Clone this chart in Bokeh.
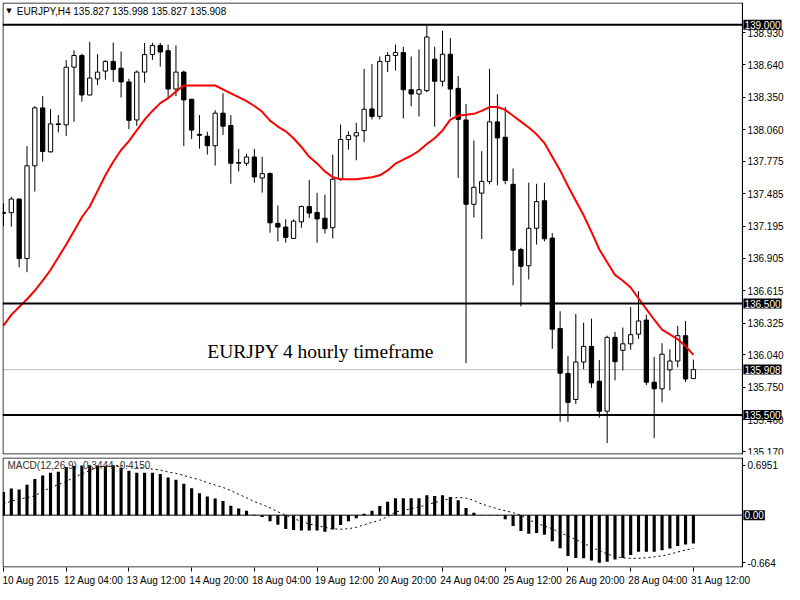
from bokeh.plotting import figure
from bokeh.models import Range1d, FixedTicker, Label, NumeralTickFormatter, BoxAnnotation
from bokeh.layouts import column
from bokeh.embed import file_html
from bokeh.resources import INLINE

# ---------------- data ----------------
date_labels = ["10 Aug 2015", "12 Aug 04:00", "13 Aug 12:00", "14 Aug 20:00",
               "18 Aug 04:00", "19 Aug 12:00", "20 Aug 20:00", "24 Aug 04:00",
               "25 Aug 12:00", "26 Aug 20:00", "28 Aug 04:00", "31 Aug 12:00"]
date_label_bars = [0, 8, 16, 24, 32, 40, 48, 56, 64, 72, 80, 88]

opens = [137.317, 137.315, 137.437, 136.904, 137.735, 138.254, 137.860, 138.111, 138.102, 138.619,
         138.724, 138.370, 138.514, 138.584, 138.671, 138.610, 138.487, 138.146, 138.575, 138.732,
         138.814, 138.767, 138.423, 138.575, 138.332, 138.017, 138.000, 137.915, 138.207, 138.096,
         137.764, 137.758, 137.814, 137.626, 137.665, 137.219, 137.186, 137.084, 137.233, 137.370,
         137.317, 137.265, 137.180, 137.615, 137.971, 138.003, 138.050, 138.245, 138.178, 138.671,
         138.724, 138.750, 138.417, 138.379, 138.409, 138.691, 138.493, 138.735, 138.429, 138.146,
         137.390, 137.490, 137.595, 138.129, 137.991, 137.569, 136.985, 136.839, 137.175, 137.422,
         137.087, 136.276, 135.874, 135.640, 135.976, 136.116, 135.804, 135.535, 136.197, 136.081,
         136.139, 136.226, 136.352, 135.795, 135.736, 135.906, 135.985, 136.212, 135.827]
highs = [137.399, 137.457, 137.443, 137.912, 138.269, 138.359, 138.245, 138.190, 138.682, 138.770,
         138.741, 138.846, 138.735, 138.682, 138.840, 138.759, 138.516, 138.589, 138.837, 138.837,
         138.837, 138.822, 138.814, 138.589, 138.332, 138.190, 138.041, 138.234, 138.385, 138.190,
         137.886, 137.842, 137.886, 137.816, 137.676, 137.379, 137.256, 137.254, 137.379, 137.606,
         137.492, 137.475, 137.834, 138.105, 138.044, 138.120, 138.604, 138.647, 138.715, 138.755,
         138.822, 138.802, 138.715, 138.779, 138.989, 138.802, 138.945, 138.881, 138.540, 138.289,
         137.962, 137.866, 138.604, 138.376, 138.262, 137.711, 137.000, 137.583, 137.574, 137.583,
         137.131, 136.431, 136.029, 136.407, 136.329, 136.364, 135.994, 136.212, 136.247, 136.285,
         136.469, 136.611, 136.401, 136.022, 136.145, 136.090, 136.300, 136.344, 135.998]
lows = [137.195, 137.189, 136.825, 136.781, 137.504, 137.772, 137.854, 138.035, 138.003, 138.129,
        138.309, 138.365, 138.458, 138.507, 138.487, 138.347, 138.064, 138.094, 138.481, 138.685,
        138.624, 138.341, 138.361, 137.912, 137.976, 137.889, 137.836, 137.737, 138.011, 137.574,
        137.685, 137.735, 137.583, 137.495, 137.136, 137.058, 137.046, 137.079, 137.180, 137.268,
        137.046, 137.128, 137.084, 137.600, 137.880, 137.784, 137.947, 138.151, 138.151, 138.575,
        138.589, 138.160, 138.269, 138.178, 138.394, 138.085, 138.446, 138.175, 137.626, 135.964,
        137.271, 137.079, 137.569, 137.560, 137.569, 136.664, 136.475, 136.716, 137.029, 137.058,
        136.095, 135.439, 135.439, 135.600, 135.911, 135.745, 135.477, 135.250, 135.812, 135.900,
        136.086, 136.183, 135.769, 135.294, 135.614, 135.722, 135.929, 135.798, 135.827]
closes = [137.309, 137.437, 136.904, 137.735, 138.254, 137.863, 138.111, 138.105, 138.619, 138.724,
          138.370, 138.522, 138.575, 138.671, 138.598, 138.487, 138.143, 138.575, 138.732, 138.814,
          138.755, 138.423, 138.575, 138.326, 138.055, 138.009, 137.915, 138.207, 138.090, 137.758,
          137.759, 137.814, 137.635, 137.665, 137.224, 137.186, 137.093, 137.239, 137.370, 137.311,
          137.259, 137.171, 137.615, 137.971, 138.006, 138.032, 138.242, 138.178, 138.671, 138.724,
          138.750, 138.417, 138.379, 138.417, 138.890, 138.493, 138.735, 138.423, 138.151, 137.390,
          137.542, 137.595, 138.129, 137.985, 137.604, 136.979, 136.834, 137.175, 137.414, 137.081,
          136.270, 135.876, 135.614, 135.976, 136.116, 135.789, 135.535, 136.197, 135.979, 136.139,
          136.221, 136.344, 135.795, 135.736, 136.046, 135.985, 136.212, 135.824, 135.908]
moving_avg = [136.302, 136.399, 136.469, 136.539, 136.617, 136.705, 136.801, 136.915, 137.029, 137.151,
              137.274, 137.370, 137.510, 137.650, 137.772, 137.877, 137.956, 138.052, 138.149, 138.227,
              138.297, 138.341, 138.402, 138.455, 138.455, 138.455, 138.455, 138.455, 138.420, 138.385,
              138.350, 138.315, 138.271, 138.219, 138.140, 138.087, 138.044, 137.982, 137.904, 137.816,
              137.755, 137.685, 137.632, 137.615, 137.615, 137.615, 137.624, 137.632, 137.650, 137.694,
              137.755, 137.790, 137.825, 137.869, 137.930, 137.982, 138.052, 138.149, 138.184, 138.192,
              138.201, 138.227, 138.262, 138.262, 138.236, 138.184, 138.131, 138.079, 138.017, 137.939,
              137.816, 137.694, 137.554, 137.422, 137.291, 137.142, 136.985, 136.871, 136.757, 136.705,
              136.644, 136.547, 136.451, 136.355, 136.267, 136.224, 136.180, 136.119, 136.040]
macd_hist = [0.321, 0.371, 0.358, 0.425, 0.502, 0.551, 0.591, 0.605, 0.672, 0.685,
             0.690, 0.695, 0.690, 0.688, 0.695, 0.659, 0.618, 0.591, 0.591, 0.591,
             0.574, 0.524, 0.493, 0.439, 0.375, 0.304, 0.259, 0.232, 0.196, 0.132,
             0.092, 0.061, 0.004, -0.024, -0.084, -0.132, -0.192, -0.205, -0.213, -0.213,
             -0.213, -0.232, -0.200, -0.138, -0.084, -0.043, 0.020, 0.061, 0.128, 0.186,
             0.236, 0.236, 0.236, 0.236, 0.277, 0.267, 0.277, 0.254, 0.209, 0.101,
             0.034, 0.003, -0.004, -0.008, -0.057, -0.151, -0.219, -0.259, -0.250, -0.273,
             -0.362, -0.462, -0.570, -0.597, -0.601, -0.632, -0.664, -0.648, -0.618, -0.597,
             -0.556, -0.510, -0.510, -0.510, -0.489, -0.466, -0.429, -0.408, -0.394]
macd_signal = [0.155, 0.196, 0.223, 0.243, 0.270, 0.331, 0.385, 0.425, 0.470, 0.527,
               0.574, 0.621, 0.668, 0.682, 0.689, 0.689, 0.682, 0.668, 0.655, 0.641,
               0.628, 0.601, 0.581, 0.554, 0.520, 0.493, 0.452, 0.419, 0.385, 0.344,
               0.290, 0.243, 0.189, 0.149, 0.101, 0.047, 0.000, -0.047, -0.088, -0.122,
               -0.149, -0.169, -0.189, -0.196, -0.189, -0.169, -0.135, -0.101, -0.070, -0.020,
               0.043, 0.068, 0.088, 0.115, 0.142, 0.176, 0.203, 0.230, 0.246, 0.239,
               0.203, 0.155, 0.122, 0.088, 0.061, 0.034, 0.000, -0.061, -0.115, -0.149,
               -0.189, -0.243, -0.290, -0.340, -0.392, -0.446, -0.493, -0.540, -0.578, -0.594,
               -0.601, -0.601, -0.594, -0.581, -0.567, -0.543, -0.513, -0.486, -0.462]

price_ticks = [138.930, 138.640, 138.350, 138.060, 137.775, 137.485, 137.195,
               136.905, 136.615, 136.325, 136.040, 135.750, 135.460, 135.170]
level_lines = [139.000, 136.500, 135.500]
bid_price = 135.908
macd_ticks = [0.6951, -0.664]
macd_tick_labels = ["0.6951", "-0.664"]
symbol = "EURJPY,H4"
macd_name = "MACD(12,26,9)"
macd_values_text = "-0.3444 -0.4150"
note_text = "EURJPY 4 hourly timeframe"

# ---------------- layout constants ----------------
FONT = "Liberation Sans"
FS = "10px"
FRAME_W = 782
PX_PER_BAR = 7.84
X_START = -0.125
X_END = X_START + FRAME_W / PX_PER_BAR
PLOT_END = 94.25          # right edge of the chart area (price scale starts here)
MAIN_H = 452
MACD_H = 110
P_LO, P_HI = 135.147, 139.199
M_LO, M_HI = -0.729, 0.803

n = len(opens)
idx = list(range(n))
body_top = [max(o, c) for o, c in zip(opens, closes)]
body_bot = [min(o, c) for o, c in zip(opens, closes)]
body_fill = ["white" if c > o else "black" for o, c in zip(opens, closes)]

xr = Range1d(X_START, X_END)
hx = (X_END - X_START) / FRAME_W * 0.5


def frame_box(lo, hi, h):
    hy = (hi - lo) / h * 0.5
    return BoxAnnotation(left=X_START + hx, right=PLOT_END, bottom=lo + hy, top=hi - hy,
                         fill_color=None, fill_alpha=0, line_color="black",
                         line_alpha=1, line_width=1)


def price_label(y, txt):
    return Label(x=PLOT_END, y=y, x_offset=1, text=txt, text_color="white",
                 background_fill_color="black", text_baseline="middle",
                 text_font=FONT, text_font_size=FS, padding=1)


# ---------------- main chart ----------------
p = figure(frame_width=FRAME_W, frame_height=MAIN_H, x_range=xr, y_range=Range1d(P_LO, P_HI),
           x_axis_location=None, y_axis_location="right", toolbar_location=None,
           output_backend="svg", min_border_left=2, min_border_right=0,
           min_border_top=2, min_border_bottom=3, background_fill_color="white",
           border_fill_color="white", outline_line_color=None)
p.grid.visible = False
ya = p.yaxis[0]
ya.fixed_location = PLOT_END
ya.ticker = FixedTicker(ticks=price_ticks)
ya.formatter = NumeralTickFormatter(format="0.000")
ya.major_tick_out = 3
ya.major_tick_in = 0
ya.minor_tick_line_color = None
ya.axis_line_color = "black"
ya.major_label_standoff = 2
ya.major_label_text_font = FONT
ya.major_label_text_font_size = FS
ya.major_label_text_color = "black"

p.add_layout(frame_box(P_LO, P_HI, MAIN_H))

p.segment(x0=[X_START], y0=[bid_price], x1=[PLOT_END], y1=[bid_price],
          line_color="#c0c0c0", line_width=1)
p.segment(x0=idx, y0=lows, x1=idx, y1=highs, line_color="black", line_width=1)
p.vbar(x=idx, top=body_top, bottom=body_bot, width=0.55, fill_color=body_fill,
       line_color="black", line_width=1)
p.line(idx, moving_avg, line_color="#ff0000", line_width=2)
p.segment(x0=[X_START] * len(level_lines), y0=level_lines,
          x1=[PLOT_END] * len(level_lines), y1=level_lines,
          line_color="black", line_width=2)

for lv in level_lines + [bid_price]:
    p.add_layout(price_label(lv, "%.3f" % lv))

title_txt = "%s  %.3f %.3f %.3f %.3f" % (symbol, opens[-1], highs[-1], lows[-1], closes[-1])
p.add_layout(Label(x=0.35, y=139.12, text="\u25BC", text_baseline="middle",
                   text_font="DejaVu Sans", text_font_size="7px", text_color="black"))
p.add_layout(Label(x=1.7, y=139.12, text=title_txt, text_baseline="middle",
                   text_font=FONT, text_font_size=FS, text_color="black"))
p.add_layout(Label(x=26.0, y=136.066, text=note_text, text_baseline="middle",
                   text_font="Liberation Serif", text_font_size="19.5px", text_color="black"))

# ---------------- MACD panel ----------------
m = figure(frame_width=FRAME_W, frame_height=MACD_H, x_range=xr, y_range=Range1d(M_LO, M_HI),
           x_axis_location="below", y_axis_location="right", toolbar_location=None,
           output_backend="svg", min_border_left=2, min_border_right=0,
           min_border_top=0, min_border_bottom=14, background_fill_color="white",
           border_fill_color="white", outline_line_color=None)
m.grid.visible = False
my = m.yaxis[0]
my.fixed_location = PLOT_END
my.ticker = FixedTicker(ticks=macd_ticks)
my.major_label_overrides = {t: s for t, s in zip(macd_ticks, macd_tick_labels)}
my.major_tick_out = 3
my.major_tick_in = 0
my.minor_tick_line_color = None
my.axis_line_color = "black"
my.major_label_standoff = 2
my.major_label_text_font = FONT
my.major_label_text_font_size = FS
my.major_label_text_color = "black"

mx = m.xaxis[0]
label_pos = [b + 3.5 for b in date_label_bars]
mx.ticker = FixedTicker(ticks=label_pos, minor_ticks=date_label_bars)
mx.major_label_overrides = {t: s for t, s in zip(label_pos, date_labels)}
mx.axis_line_color = None
mx.major_tick_out = 0
mx.major_tick_in = 0
mx.minor_tick_out = 4
mx.minor_tick_in = 0
mx.minor_tick_line_color = "black"
mx.major_label_standoff = 3
mx.major_label_text_font = FONT
mx.major_label_text_font_size = FS
mx.major_label_text_color = "black"

m.add_layout(frame_box(M_LO, M_HI, MACD_H))
m.segment(x0=[X_START], y0=[0], x1=[PLOT_END], y1=[0], line_color="black", line_width=1)
m.vbar(x=idx, top=macd_hist, bottom=0, width=0.4, fill_color="black", line_color=None)
m.line(idx, macd_signal, line_color="black", line_width=1, line_dash="2 3")

m.add_layout(price_label(0, "0.00"))
m.add_layout(Label(x=0.5, y=0.686, text=macd_name + " " + macd_values_text, text_baseline="middle",
                   text_font=FONT, text_font_size=FS, text_color="#303030"))

layout = column(p, m, spacing=0)
open("out.html", "w").write(file_html(layout, INLINE))
